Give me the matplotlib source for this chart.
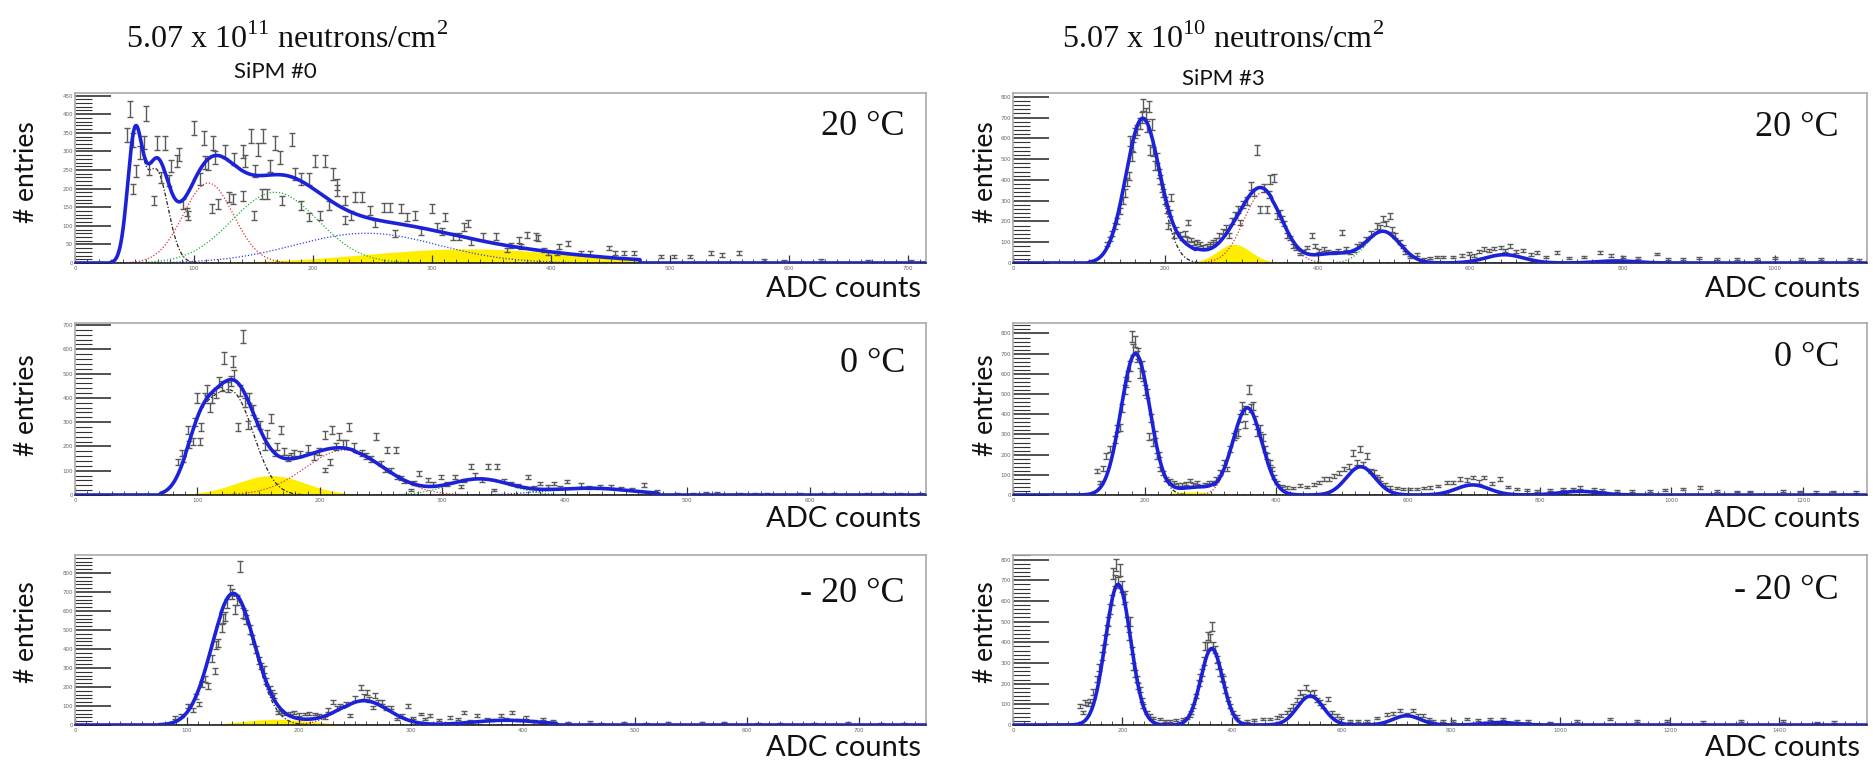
import numpy as np
import matplotlib.pyplot as plt
from matplotlib.ticker import MultipleLocator

plt.rcParams["mathtext.fontset"] = "custom"
plt.rcParams["mathtext.rm"] = "Liberation Serif"

W, H = 1873, 763

# ---------------- SiPM #0, 5.07e11 n/cm2 ----------------
# 20 C
s0_p20_adc = [44, 46, 49, 49, 51, 55, 58, 60, 62, 66, 69, 72, 76, 79, 81, 86, 87, 91, 94, 95,
              100, 105, 108, 109, 112, 115, 116, 118, 120, 126, 129, 133, 134, 141, 141, 143, 148,
              150, 151, 154, 157, 158, 161, 164, 168, 172, 174, 182, 185, 190, 190, 197, 197, 202,
              206, 210, 213, 217, 220, 220, 227, 227, 232, 235, 241, 248, 252, 260, 265, 269, 274,
              279, 286, 291, 300, 304, 308, 311, 318, 323, 327, 330, 333, 343, 354, 363, 366, 373,
              375, 380, 387, 389, 394, 397, 405, 407, 414, 425, 433, 449, 454, 461, 470, 492, 503,
              517, 534, 544, 558, 579, 596, 627, 666, 702]
s0_p20_cnt = [345, 414, 330, 199, 248, 296, 324, 403, 252, 168, 323, 230, 323, 221, 261, 274, 292,
              159, 137, 128, 363, 226, 336, 270, 266, 146, 323, 283, 159, 300, 177, 172, 279, 300,
              181, 274, 341, 128, 248, 305, 186, 341, 186, 261, 323, 283, 168, 332, 239, 226, 155,
              226, 124, 274, 128, 274, 155, 239, 212, 195, 168, 115, 128, 177, 177, 141, 106, 150,
              150, 79, 146, 124, 128, 84, 146, 97, 84, 124, 71, 71, 97, 106, 57, 71, 71, 35, 48,
              61, 44, 75, 71, 66, 35, 27, 27, 44, 53, 27, 27, 40, 27, 27, 27, 18, 18, 18, 27, 22,
              27, 8, 6, 7, 5, 6]
s0_p20_amp = [310, 250, 215, 190, 80, 38]
s0_p20_mean = [50, 68, 112, 168, 245, 330]
s0_p20_sigma = [6, 10, 21, 36, 60, 85]
s0_p20_kind = ["pe1", "pe1", "pe2", "pe3", "pe4", "xtalk"]

# 0 C
s0_p0_adc = [84, 87, 92, 93, 96, 100, 102, 103, 106, 108, 112, 118, 122, 125, 129, 130, 133, 137,
             141, 142, 145, 151, 155, 160, 163, 168, 174, 179, 190, 195, 204, 204, 208, 210, 216,
             219, 224, 234, 246, 253, 255, 262, 263, 269, 274, 281, 288, 299, 310, 315, 323, 332,
             337, 342, 345, 356, 370, 380, 391, 402, 413, 429, 438, 446, 465, 492, 505, 524, 543,
             565, 592, 620, 647, 674,
             88, 98, 110, 115, 120, 127, 135, 139, 148, 157, 165, 171, 176, 184, 199, 213, 221,
             228, 238, 242, 250, 258, 266, 277, 292, 304, 318, 327, 350, 362, 375, 386, 396, 420,
             455, 475, 515, 555, 610, 660, 690]
s0_p0_cnt = [137, 172, 268, 206, 220, 398, 220, 281, 398, 432, 398, 466, 563, 446, 549, 494, 281,
             652, 288, 398, 350, 288, 199, 316, 172, 268, 151, 172, 192, 158, 247, 103, 137, 268,
             240, 213, 281, 172, 240, 103, 185, 185, 75, 55, 21, 89, 62, 75, 75, 34, 117, 62, 117,
             21, 117, 48, 75, 48, 48, 55, 41, 34, 34, 27, 41, 7, 6, 8, 6, 7, 5, 6, 5, 6,
             150, 300, 360, 420, 450, 470, 430, 380, 300, 250, 200, 180, 160, 170, 180, 200, 210,
             200, 160, 150, 130, 100, 70, 50, 45, 45, 60, 80, 60, 40, 30, 35, 30, 30,
             25, 15, 8, 6, 7, 6, 5]
s0_p0_amp = [220, 410, 80, 185, 65, 28]
s0_p0_mean = [102, 129, 160, 220, 330, 420]
s0_p0_sigma = [12, 17, 28, 32, 25, 35]
s0_p0_kind = ["pe1", "pe1", "xtalk", "pe2", "pe3", "pe4"]

# -20 C
s0_m20_adc = [89, 101, 111, 113, 119, 125, 128, 131, 134, 138, 143, 147, 150, 153, 156, 162, 166,
              169, 174, 178, 181, 187, 196, 205, 214, 223, 230, 237, 246, 255, 261, 266, 268, 274,
              282, 288, 297, 309, 317, 335, 347, 359, 368, 380, 390, 403, 418, 427, 470, 510, 560,
              610, 660, 720,
              95, 105, 108, 116, 122, 126, 132, 136, 140, 145, 152, 158, 164, 171, 176, 184, 192,
              200, 209, 218, 226, 234, 242, 250, 258, 263, 271, 278, 292, 302, 313, 325, 342, 353,
              372, 385, 396, 410, 440, 460, 490, 530, 580, 630, 690, 740]
s0_m20_cnt = [40, 101, 110, 215, 206, 285, 433, 511, 572, 712, 607, 834, 590, 555, 503, 398, 311,
              293, 189, 154, 66, 58, 66, 58, 58, 40, 119, 101, 49, 197, 171, 92, 154, 119, 92, 31,
              101, 58, 49, 40, 66, 49, 31, 49, 66, 40, 31, 22, 9, 8, 10, 7, 8, 6,
              50, 80, 150, 240, 350, 420, 560, 640, 690, 660, 580, 450, 340, 230, 170, 70, 60,
              55, 60, 50, 80, 90, 110, 140, 150, 135, 120, 90, 50, 35, 30, 25, 30, 20,
              25, 30, 25, 20, 12, 15, 10, 10, 12, 8, 10, 8]
s0_m20_amp = [680, 30, 128, 25]
s0_m20_mean = [141, 180, 258, 385]
s0_m20_sigma = [19, 30, 22, 30]
s0_m20_kind = ["pe1", "xtalk", "pe2", "pe3"]

# ---------------- SiPM #3, 5.07e10 n/cm2 ----------------
# 20 C
s3_p20_adc = [123, 127, 134, 141, 147, 152, 156, 154, 160, 167, 171, 178, 176, 182, 180, 184, 189,
              193, 197, 202, 208, 204, 211, 219, 230, 228, 241, 254, 263, 270, 283, 296, 307, 298,
              313, 320, 324, 333, 338, 342, 346, 353, 360, 368, 377, 386, 397, 408, 392, 421, 432,
              443, 451, 464, 478, 486, 495, 502, 508, 515, 521, 539, 556, 578, 605, 618, 640, 653,
              670, 688, 714, 771, 801, 845, 880, 924, 977, 1034, 1099,
              130, 137, 144, 150, 158, 163, 169, 174, 187, 191, 195, 200, 206, 214, 222, 226, 234,
              238, 246, 250, 258, 266, 275, 279, 287, 291, 302, 317, 329, 336, 350, 356, 364, 372,
              381, 402, 414, 426, 437, 447, 457, 470, 482, 490, 498, 512, 530, 547, 565, 590, 598,
              612, 625, 632, 646, 660, 680, 700, 730, 750, 785, 820, 860, 900, 950, 1000, 1060,
              1110]
s3_p20_cnt = [91, 115, 178, 250, 338, 418, 514, 585, 625, 673, 761, 753, 657, 665, 545, 537, 505,
              402, 338, 258, 314, 178, 131, 139, 195, 115, 99, 83, 99, 131, 131, 258, 298, 195, 370,
              545, 258, 258, 402, 410, 226, 210, 131, 83, 43, 75, 83, 67, 131, 51, 147, 51, 83,
              115, 178, 210, 226, 131, 99, 51, 27, 19, 27, 27, 35, 67, 75, 83, 59, 51, 51, 51, 27,
              43, 19, 19, 19, 19, 19,
              140, 200, 300, 390, 560, 640, 700, 720, 470, 430, 360, 300, 240, 160, 120, 140, 110,
              95, 90, 80, 90, 110, 150, 170, 200, 230, 280, 340, 360, 330, 240, 190, 120, 70,
              55, 60, 55, 60, 70, 60, 90, 140, 170, 190, 160, 80, 40, 25, 30, 35, 45,
              55, 60, 70, 60, 55, 40, 30, 25, 30, 35, 25, 20, 25, 20, 25, 20,
              15]
s3_p20_amp = [690, 70, 90, 340, 45, 150, 40, 10]
s3_p20_mean = [170, 225, 290, 328, 420, 486, 645, 792]
s3_p20_sigma = [22, 25, 22, 25, 28, 22, 25, 25]
s3_p20_kind = ["pe1", "bg", "xtalk", "pe2", "bg", "pe3", "pe4", "bg"]

# 0 C
s3_p0_adc = [127, 132, 142, 155, 163, 170, 175, 180, 185, 188, 193, 198, 203, 206, 213, 218, 223,
             233, 244, 256, 269, 279, 292, 304, 315, 325, 335, 342, 348, 358, 365, 353, 370, 380,
             386, 393, 401, 416, 436, 457, 472, 487, 502, 517, 527, 538, 548, 558, 573, 593, 614,
             634, 659, 679, 699, 715, 740, 765, 796, 836, 861, 882, 917, 968, 1018, 1044, 1069,
             1120, 1196, 1246,
             137, 148, 158, 166, 172, 178, 183, 190, 196, 201, 209, 215, 221, 228, 238, 250, 262,
             274, 286, 298, 309, 320, 330, 338, 345, 352, 361, 368, 375, 383, 390, 397, 408, 425,
             446, 465, 480, 495, 510, 522, 532, 543, 553, 565, 583, 603, 624, 645, 668, 690, 707,
             727, 752, 780, 815, 850, 895, 940, 990, 1100, 1170, 1220, 1280]
s3_p0_cnt = [120, 62, 194, 276, 334, 522, 588, 785, 760, 686, 604, 588, 505, 292, 259, 194, 128,
             79, 62, 54, 71, 62, 54, 62, 111, 128, 292, 309, 440, 522, 440, 350, 309, 284, 194,
             128, 62, 38, 46, 54, 79, 95, 128, 210, 226, 194, 111, 79, 38, 30, 30, 38, 62, 79, 87,
             87, 79, 30, 21, 30, 38, 30, 21, 21, 30, 38, 21, 17, 17, 17,
             130, 230, 330, 430, 560, 640, 720, 700, 640, 520, 380, 300, 200, 110, 70, 50, 55,
             50, 45, 60, 80, 160, 230, 300, 380, 420, 430, 370, 330, 230, 160, 90, 45, 35,
             40, 60, 80, 110, 140, 160, 150, 120, 90, 50, 35, 30, 35, 45, 60, 75, 65,
             55, 40, 25, 25, 30, 25, 20, 25, 18, 20, 15, 15]
s3_p0_amp = [700, 25, 15, 430, 140, 50, 18]
s3_p0_mean = [186, 285, 270, 356, 528, 698, 860]
s3_p0_sigma = [22, 30, 30, 22, 22, 25, 30]
s3_p0_kind = ["pe1", "bg", "xtalk", "pe2", "pe3", "pe4", "bg"]

# -20 C
s3_m20_adc = [122, 132, 141, 153, 162, 168, 174, 180, 183, 189, 195, 199, 205, 211, 214, 220, 226,
              232, 238, 250, 269, 287, 311, 323, 329, 339, 345, 351, 357, 363, 369, 372, 378, 384,
              393, 402, 427, 457, 482, 500, 512, 524, 536, 549, 561, 576, 591, 616, 646, 683, 707,
              731, 749, 768, 804, 829, 871, 895, 920, 981, 1090, 1194, 1407, 1468,
              127, 137, 147, 158, 165, 171, 177, 186, 192, 202, 208, 217, 223, 229, 235, 244, 256,
              278, 298, 317, 326, 334, 342, 348, 354, 360, 366, 375, 381, 388, 397, 410, 440, 470,
              490, 506, 518, 530, 542, 555, 567, 582, 600, 630, 665, 695, 720, 740, 760, 785, 850,
              940, 1030, 1140, 1260, 1330, 1500]
s3_m20_cnt = [93, 109, 117, 221, 333, 413, 502, 606, 734, 774, 750, 670, 622, 430, 502, 285, 221,
              173, 93, 45, 29, 21, 29, 45, 93, 205, 253, 381, 430, 478, 365, 317, 253, 221, 125,
              61, 21, 29, 37, 61, 93, 157, 181, 157, 109, 125, 45, 21, 21, 53, 69, 69, 45, 21, 21,
              29, 29, 29, 21, 13, 29, 21, 21, 13,
              60, 100, 160, 280, 370, 460, 560, 700, 690, 610, 500, 360, 250, 190, 120, 60, 35,
              20, 25, 35, 60, 140, 230, 310, 380, 420, 380, 290, 230, 170, 90, 40, 25, 30,
              45, 75, 120, 140, 150, 120, 90, 60, 35, 20, 35, 55, 50, 45, 30, 20, 22,
              20, 18, 20, 15, 18, 15]
s3_m20_amp = [680, 370, 140, 45, 12]
s3_m20_mean = [192, 363, 543, 719, 890]
s3_m20_sigma = [23, 20, 24, 25, 30]
s3_m20_kind = ["pe1", "pe2", "pe3", "pe4", "bg"]

temperatures = ["20 \u00b0C", "0 \u00b0C", "- 20 \u00b0C"]

# plotting table: (adc, counts, amp, mean, sigma, kind, fit range, fill range, x max, y max, x step, y step)
panels = [
    [(s0_p20_adc, s0_p20_cnt, s0_p20_amp, s0_p20_mean, s0_p20_sigma, s0_p20_kind,
      (30, 475), (100, 475), 715, 457, 100, 50),
     (s0_p0_adc, s0_p0_cnt, s0_p0_amp, s0_p0_mean, s0_p0_sigma, s0_p0_kind,
      (70, 476), (90, 228), 695, 708, 100, 100),
     (s0_m20_adc, s0_m20_cnt, s0_m20_amp, s0_m20_mean, s0_m20_sigma, s0_m20_kind,
      (75, 430), (130, 240), 760, 895, 100, 100)],
    [(s3_p20_adc, s3_p20_cnt, s3_p20_amp, s3_p20_mean, s3_p20_sigma, s3_p20_kind,
      (100, 1121), (240, 340), 1121, 818, 200, 100),
     (s3_p0_adc, s3_p0_cnt, s3_p0_amp, s3_p0_mean, s3_p0_sigma, s3_p0_kind,
      (100, 1297), (235, 305), 1297, 852, 200, 100),
     (s3_m20_adc, s3_m20_cnt, s3_m20_amp, s3_m20_mean, s3_m20_sigma, s3_m20_kind,
      (100, 1560), None, 1560, 822, 200, 100)],
]

line_style = {"pe1": dict(color="#222222", ls=(0, (3, 1.5, 1, 1.5))),
              "pe2": dict(color="#e03030", ls=(0, (1, 1.5))),
              "pe3": dict(color="#20b030", ls=(0, (1, 1.5))),
              "pe4": dict(color="#3040e0", ls=(0, (1, 1.5)))}


def gauss(x, a, mu, s):
    return a * np.exp(-0.5 * ((x - mu) / s) ** 2)


def px(x, y):
    return x / W, 1 - y / H


fig = plt.figure(figsize=(W / 100, H / 100), dpi=100)

col_left = [75, 1013]
col_width = [851, 854]
row_top = [93, 323, 555]
row_height = [170, 172, 170]

for c in range(2):
    for r in range(3):
        (adc, cnt, amp, mean, sigma, kind, fit_rng, fill_rng,
         xmax, ymax, xstep, ystep) = panels[c][r]
        l, b = px(col_left[c], row_top[r] + row_height[r])
        ax = fig.add_axes([l, b, col_width[c] / W, row_height[r] / H])

        x = np.linspace(0, xmax, 1500)
        inside = (x >= fit_rng[0]) & (x <= fit_rng[1])
        total = np.zeros_like(x)
        groups = {}
        for a, m, s, k in zip(amp, mean, sigma, kind):
            g = gauss(x, a, m, s)
            if k == "xtalk":
                g = np.where((x >= fill_rng[0]) & (x <= fill_rng[1]), g, 0)
            total += g
            groups[k] = groups.get(k, 0) + g
        total = np.where(inside, total, 0)

        if "xtalk" in groups:
            ax.fill_between(x, 0, groups["xtalk"], color="#ffee00", lw=0, zorder=1)
        for k, st in line_style.items():
            if k in groups:
                seg = np.where(inside, groups[k], np.nan)
                ax.plot(x, seg, lw=0.9, zorder=2, **st)

        cnt = np.array(cnt, dtype=float)
        ax.errorbar(adc, cnt, yerr=np.sqrt(cnt), fmt="none", ecolor="#5a5a5a",
                    elinewidth=1.0, capsize=2.2, capthick=1.0, zorder=3)
        ax.plot(x, total, color="#1c22d8", lw=2.6, zorder=4)

        ax.set_xlim(0, xmax)
        ax.set_ylim(0, ymax)
        ax.xaxis.set_major_locator(MultipleLocator(xstep))
        ax.xaxis.set_minor_locator(MultipleLocator(xstep / 10))
        ax.yaxis.set_major_locator(MultipleLocator(ystep))
        ax.yaxis.set_minor_locator(MultipleLocator(ystep / 5))
        ax.tick_params(axis="y", which="major", direction="in", length=26, width=1.1,
                       color="#222222", labelsize=4, labelcolor="#666666", pad=1.5)
        ax.tick_params(axis="y", which="minor", direction="in", length=12, width=0.8,
                       color="#333333")
        ax.tick_params(axis="x", which="major", direction="in", length=6, width=0.9,
                       color="#333333", labelsize=4, labelcolor="#666666", pad=2)
        ax.tick_params(axis="x", which="minor", direction="in", length=3, width=0.6,
                       color="#333333")
        for sp in ax.spines.values():
            sp.set_color("#aaaaaa")
            sp.set_linewidth(1.2)
        ax.spines["bottom"].set_color("#222222")

        # temperature and axis captions
        tx = [905, 1839][c]
        ty = [[135, 372, 602], [136, 366, 599]][c][r]
        fig.text(*px(tx, ty), temperatures[r], ha="right", va="baseline",
                 fontsize=26, family="Liberation Serif", color="#111111")
        fig.text(*px([921, 1860][c], [297, 527, 756][r]), "ADC counts", ha="right",
                 va="baseline", fontsize=21, family="Lato", color="#111111")
        fig.text(*px([26, 986][c], [172, 405, 632][r]), "# entries", ha="center",
                 va="center", rotation=90, fontsize=19, family="Lato", color="#111111")

fig.text(*px(287, 48), r"5.07 x 10$^{11}$ neutrons/cm$^{2}$", ha="center", va="baseline",
         fontsize=23, family="Liberation Serif", color="#111111")
fig.text(*px(1223, 48), r"5.07 x 10$^{10}$ neutrons/cm$^{2}$", ha="center", va="baseline",
         fontsize=23, family="Liberation Serif", color="#111111")
fig.text(*px(275, 78), "SiPM #0", ha="center", va="baseline", fontsize=16, family="Lato",
         color="#111111")
fig.text(*px(1223, 85), "SiPM #3", ha="center", va="baseline", fontsize=16, family="Lato",
         color="#111111")

fig.savefig("out.png", dpi=100)
